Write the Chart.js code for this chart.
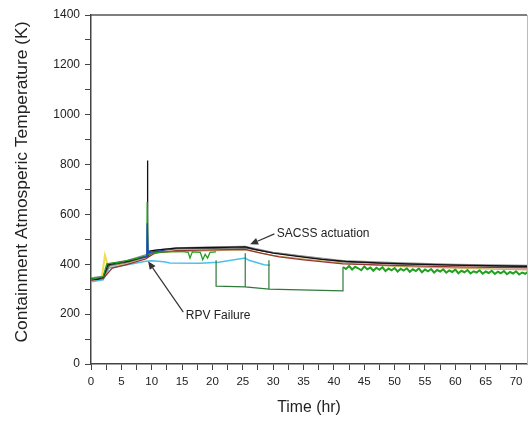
<!DOCTYPE html>
<html><head><meta charset="utf-8">
<script src="https://cdn.jsdelivr.net/npm/chart.js@4/dist/chart.umd.min.js"></script>
<style>html,body{margin:0;padding:0;background:#fff}</style></head>
<body><canvas id="c" width="528" height="421"></canvas>
<script>
// ---- data (time in hr, temperature in K) ----
const blackT = [0,1,2,2.8,4,6,9,9.25,9.3,9.35,11,14,18,22,25.4,27,30,34,38,42,48,55,62,72];
const blackV = [342,340,348,398,405,412,432,432,816,452,458,465,467,468,470,460,445,432,420,412,405,400,396,392];
const grayT = [0,2,2.8,6,9,10,14,20,25.4,30,35,41.5,50,60,72];
const grayV = [345,352,402,416,438,455,466,470,472,448,433,415,407,400,395];
const darkT = [0,2,3,6,9,10.5,14,20,25.4,29,34,41.5,50,60,72];
const darkV = [340,346,396,409,430,452,462,464,466,450,434,410,402,397,391];
const brownT = [0,2,3.5,6,9,10.5,14,20,25.4,28,31,35,41.5,50,60,72];
const brownV = [336,342,385,400,422,445,455,458,460,445,430,418,402,396,390,386];
const oliveT = [0,2,3,6,9,11,20,25.4,30,41.5,50,60,72];
const oliveV = [338,345,392,405,428,448,455,458,435,405,392,385,378];
const cyanT = [0,2,3,6,9,10,12,13,18,21,25.4,26,28.5,29.5];
const cyanV = [330,338,385,398,412,414,410,405,404,408,425,416,398,396];
const blueT = [8,9,9.2,9.25,9.4,10,12];
const blueV = [425,430,430,565,445,450,455];
const greenT = [0,2,2.6,5,9,9.2,9.25,9.4,10,12,15,16,16.3,16.7,18,18.4,18.8,19.2,19.6,20.6];
const greenV = [340,350,402,410,432,432,650,440,445,450,452,448,425,450,448,418,440,425,448,450];
const stepT = [20.6,20.6,25.4,25.4,25.4,29.3,29.3,29.3,41.5,41.5];
const stepV = [416,312,309,444,309,300,416,300,293,389];
const yellowT = [1.8,2.3,2.7];
const yellowV = [350,436,402];
const noiseT = [41.5,42,42.5,43,43.5,44,44.5,45,45.5,46,46.5,47,47.5,48,48.5,49,49.5,50,50.5,51,51.5,52,52.5,53,53.5,54,54.5,55,55.5,56,56.5,57,57.5,58,58.5,59,59.5,60,60.5,61,61.5,62,62.5,63,63.5,64,64.5,65,65.5,66,66.5,67,67.5,68,68.5,69,69.5,70,70.5,71,71.5,72];
const noiseV = [389,381,393,379,390,384,376,391,380,387,374,386,378,388,373,383,376,385,371,382,375,384,370,380,373,383,368,379,372,381,367,377,371,380,366,375,369,379,364,374,368,377,363,372,367,376,362,371,365,374,361,370,364,373,360,369,363,372,359,367,362,370];
// ticks / labels
const xTickStep = 2.5, xLabelStep = 5;
const yTickStep = 100, yLabelStep = 200;
const xTitle = 'Time (hr)';
const yTitle = 'Containment Atmosperic Temperature (K)';
const notes = [
  {text:'SACSS actuation', tx:30.6, ty:522, tailT:30.2, tailV:522, tipT:26.2, tipV:480},
  {text:'RPV Failure', tx:15.6, ty:192, tailT:15.2, tailV:208, tipT:9.4, tipV:412}
];

const pts = (T,V) => T.map((t,i)=>({x:t,y:V[i]}));
const ds = (T,V,color,order,w) => ({data:pts(T,V), borderColor:color, borderWidth:w||1.3, pointRadius:0, tension:0, fill:false, order:order});

const framePlugin = {
  id:'frame',
  afterDatasetsDraw(chart){
    const {ctx, chartArea:a, scales:{x,y}} = chart;
    ctx.save();
    ctx.strokeStyle='#555'; ctx.lineWidth=1.5;
    ctx.beginPath(); ctx.moveTo(a.left,a.top); ctx.lineTo(a.right,a.top); ctx.stroke();
    ctx.strokeStyle='#bbb'; ctx.lineWidth=1;
    ctx.beginPath(); ctx.moveTo(a.right+0.5,a.top); ctx.lineTo(a.right+0.5,a.bottom); ctx.stroke();
    // annotations
    ctx.fillStyle='#222'; ctx.strokeStyle='#333'; ctx.lineWidth=1.2;
    ctx.font='12px "Liberation Sans", Arial, sans-serif';
    ctx.textBaseline='middle'; ctx.textAlign='left';
    notes.forEach(n=>{
      const x0=x.getPixelForValue(n.tailT), y0=y.getPixelForValue(n.tailV);
      const x1=x.getPixelForValue(n.tipT), y1=y.getPixelForValue(n.tipV);
      const ang=Math.atan2(y1-y0,x1-x0), L=8, H=3.5;
      const bx=x1-L*Math.cos(ang), by=y1-L*Math.sin(ang);
      ctx.beginPath(); ctx.moveTo(x0,y0); ctx.lineTo(bx,by); ctx.stroke();
      ctx.beginPath(); ctx.moveTo(x1,y1);
      ctx.lineTo(bx+H*Math.sin(ang), by-H*Math.cos(ang));
      ctx.lineTo(bx-H*Math.sin(ang), by+H*Math.cos(ang));
      ctx.closePath(); ctx.fillStyle='#333'; ctx.fill();
      ctx.fillStyle='#222';
      ctx.fillText(n.text, x.getPixelForValue(n.tx), y.getPixelForValue(n.ty));
    });
    // y title
    ctx.save();
    ctx.translate(22, 182); ctx.rotate(-Math.PI/2);
    ctx.textAlign='center'; ctx.font='17.4px "Liberation Sans", Arial, sans-serif';
    ctx.fillText(yTitle, 0, 0);
    ctx.restore();
    ctx.restore();
  }
};

new Chart(document.getElementById('c'), {
  type:'line',
  data:{datasets:[
    ds(blueT,blueV,'#2040d0',0),
    ds(greenT,greenV,'#22a020',1),
    ds(blackT,blackV,'#111111',2),
    ds(yellowT,yellowV,'#f0dc50',3,2),
    ds(grayT,grayV,'#8c8c8c',4),
    ds(darkT,darkV,'#555555',5),
    ds(brownT,brownV,'#9a3434',6),
    ds(oliveT,oliveV,'#c9b46a',7),
    ds(noiseT,noiseV,'#22a020',8,2),
    ds(stepT,stepV,'#2f7a3a',9,1.2),
    ds(cyanT,cyanV,'#4cc0e8',10,1.5)
  ]},
  options:{
    responsive:false, animation:false, devicePixelRatio:1,
    layout:{padding:{top:15,right:1,left:0,bottom:0}},
    plugins:{legend:{display:false}, tooltip:{enabled:false}},
    scales:{
      x:{type:'linear', min:0, max:71.8,
        afterFit(s){s.height=57;},
        border:{display:true,color:'#444',width:1.5},
        grid:{drawOnChartArea:false, drawTicks:true, tickLength:6, color:'#444'},
        ticks:{stepSize:xTickStep, includeBounds:false, autoSkip:false, maxRotation:0, padding:5, color:'#222',
          font:{family:'"Liberation Sans", Arial, sans-serif', size:11.5},
          callback:v=> (v % xLabelStep === 0 ? String(v) : '')},
        title:{display:true, text:xTitle, color:'#222', font:{family:'"Liberation Sans", Arial, sans-serif', size:15.8}, padding:{top:0,bottom:4}}
      },
      y:{type:'linear', min:0, max:1400,
        afterFit(s){s.width=91;},
        border:{display:true,color:'#444',width:1.5},
        grid:{drawOnChartArea:false, drawTicks:true, tickLength:6, color:'#444'},
        ticks:{stepSize:yTickStep, autoSkip:false, padding:5, color:'#222',
          font:{family:'"Liberation Sans", Arial, sans-serif', size:12},
          callback:v=> (v % yLabelStep === 0 ? String(v) : '')}
      }
    }
  },
  plugins:[framePlugin]
});
</script></body></html>
